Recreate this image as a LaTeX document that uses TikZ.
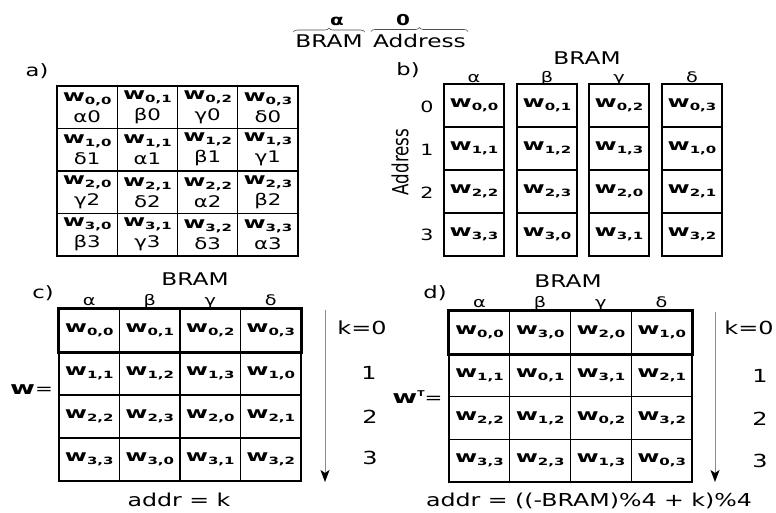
\documentclass[tikz,border=0pt]{standalone}
\usepackage{fontspec}
\setmainfont{DejaVu Sans}[FakeStretch=1.33]
\newfontfamily\cellfont{DejaVu Sans}[FakeStretch=1.5]
\newfontfamily\plainfont{DejaVu Sans}
\usetikzlibrary{decorations.pathreplacing,arrows.meta}
\newcommand{\fsz}[1]{\fontsize{#1}{#1}\selectfont}
\newcommand{\wij}[2]{{\cellfont\bfseries\fsz{16}w\raisebox{-3pt}{\fsz{10}#1,#2}}}
\newcommand{\grk}[1]{\ifcase#1 α\or β\or γ\or δ\fi}
\begin{document}
\begin{tikzpicture}[x=1pt,y=-1pt,
  cellbox/.style={draw=black,line width=1.1pt,inner sep=0pt},
  lbl/.style={inner sep=0pt,anchor=base},
  brc/.style={decorate,decoration={brace,amplitude=4pt},line width=0.6pt,draw=black!70},
  arrowline/.style={draw=black!45,line width=0.9pt,-{Stealth[black,length=12pt,width=9pt,inset=3pt]}},
  boxrow/.style={draw=black,line width=3.5pt}]
\useasboundingbox (0,0) rectangle (776,512);

% top legend
\node[lbl,font=\bfseries\fsz{15}] (ta) at (337,25) {α};
\node[lbl,font=\bfseries\fsz{15}] (t0) at (403,25) {0};
\node[lbl,font=\fsz{17.5},inner sep=2pt] (tbram) at (329,47) {BRAM};
\node[lbl,font=\fsz{17.5},inner sep=2pt] (taddr) at (419.5,47) {Address};
\draw[brc] (tbram.north west) -- (tbram.north east);
\draw[brc] (taddr.north west) -- (taddr.north east);

% panel a
\node[lbl,font=\fsz{17}] (la) at (37,76) {a)};
\foreach \row in {0,...,3}{\foreach \col in {0,...,3}{
  \pgfmathtruncatemacro{\gi}{mod(\col-\row+4,4)}
  \node[cellbox,minimum width=60.25pt,minimum height=42.5pt,align=center,
        font=\fontsize{16}{21}\selectfont]
    (a-\row-\col) at ({57+60.25*(\col+0.5)},{86+42.5*(\row+0.5)})
    {\wij{\row}{\col}\\\grk{\gi}\row};
}}

% panel b
\node[lbl,font=\fsz{17}] (lb) at (408,75) {b)};
\node[lbl,font=\fsz{17.5}] (bbram) at (587,64) {BRAM};
\node[rotate=90,inner sep=0pt] (baddr) at (400,162) {\scalebox{1}[1.33]{\plainfont\fsz{16.7}Address}};
\foreach \col/\lft in {0/444,1/517,2/589,3/662}{
  \node[lbl,font=\fsz{14.5}] (bg-\col) at (\lft+30,82) {\grk{\col}};
  \foreach \row in {0,...,3}{
    \pgfmathtruncatemacro{\cc}{mod(\row+\col,4)}
    \node[cellbox,minimum width=60pt,minimum height=43pt]
      (b-\row-\col) at ({\lft+30},{84+43*(\row+0.5)}) {\wij{\row}{\cc}};
}}
\foreach \row/\yy in {0/107,1/150,2/193,3/235}{
  \node[font=\fsz{15.5},inner sep=0pt] (bn-\row) at (427,\yy) {\row};
}

% panel c
\node[lbl,font=\fsz{17}] (lc) at (43,298) {c)};
\node[lbl,font=\fsz{17.5}] (cbram) at (195,285) {BRAM};
\foreach \col in {0,...,3}{
  \node[lbl,font=\fsz{14.5}] (cg-\col) at ({59+60.5*(\col+0.5)},305) {\grk{\col}};
  \foreach \row in {0,...,3}{
    \pgfmathtruncatemacro{\cc}{mod(\row+\col,4)}
    \node[cellbox,minimum width=60.5pt,minimum height=43pt]
      (c-\row-\col) at ({59+60.5*(\col+0.5)},{309+43*(\row+0.5)}) {\wij{\row}{\cc}};
}}
\draw[boxrow] (c-0-0.north west) rectangle (c-0-3.south east);
\node[lbl] (cw) at (31.5,394) {{\cellfont\bfseries\fsz{18}w}{\fsz{16}=}};
\coordinate (ca0) at (325,310);
\coordinate (ca1) at (325,482);
\draw[arrowline] (ca0) -- (ca1);
\node[font=\fsz{18},inner sep=0pt] (ck0) at (362,328) {k=0};
\node[font=\fsz{18},inner sep=0pt] (ck1) at (369,373) {1};
\node[font=\fsz{18},inner sep=0pt] (ck2) at (370,417) {2};
\node[font=\fsz{18},inner sep=0pt] (ck3) at (370,458) {3};
\node[lbl,font=\fsz{17.8}] (caddr) at (179,506) {addr = k};

% panel d
\node[lbl,font=\fsz{17}] (ld) at (435,298) {d)};
\node[lbl,font=\fsz{17.5}] (dbram) at (568,287) {BRAM};
\foreach \col in {0,...,3}{
  \node[lbl,font=\fsz{14.5}] (dg-\col) at ({449+60.75*(\col+0.5)},307) {\grk{\col}};
  \foreach \row in {0,...,3}{
    \pgfmathtruncatemacro{\rr}{mod(\row-\col+4,4)}
    \node[cellbox,minimum width=60.75pt,minimum height=42.75pt]
      (d-\row-\col) at ({449+60.75*(\col+0.5)},{311+42.75*(\row+0.5)}) {\wij{\rr}{\row}};
}}
\draw[boxrow] (d-0-0.north west) rectangle (d-0-3.south east);
\node[lbl] (dw) at (417.5,403) {{\cellfont\bfseries\fsz{18}w}\raisebox{7pt}{\bfseries\fsz{8}T}{\fsz{16}=}};
\coordinate (da0) at (715,312);
\coordinate (da1) at (715,482);
\draw[arrowline] (da0) -- (da1);
\node[font=\fsz{18},inner sep=0pt] (dk0) at (749,328) {k=0};
\node[font=\fsz{18},inner sep=0pt] (dk1) at (760,376) {1};
\node[font=\fsz{18},inner sep=0pt] (dk2) at (760,419) {2};
\node[font=\fsz{18},inner sep=0pt] (dk3) at (760,461) {3};
\node[lbl,font=\fsz{17.8}] (daddr) at (589,506) {addr = ((-BRAM)\%4 + k)\%4};
\end{tikzpicture}
\end{document}
